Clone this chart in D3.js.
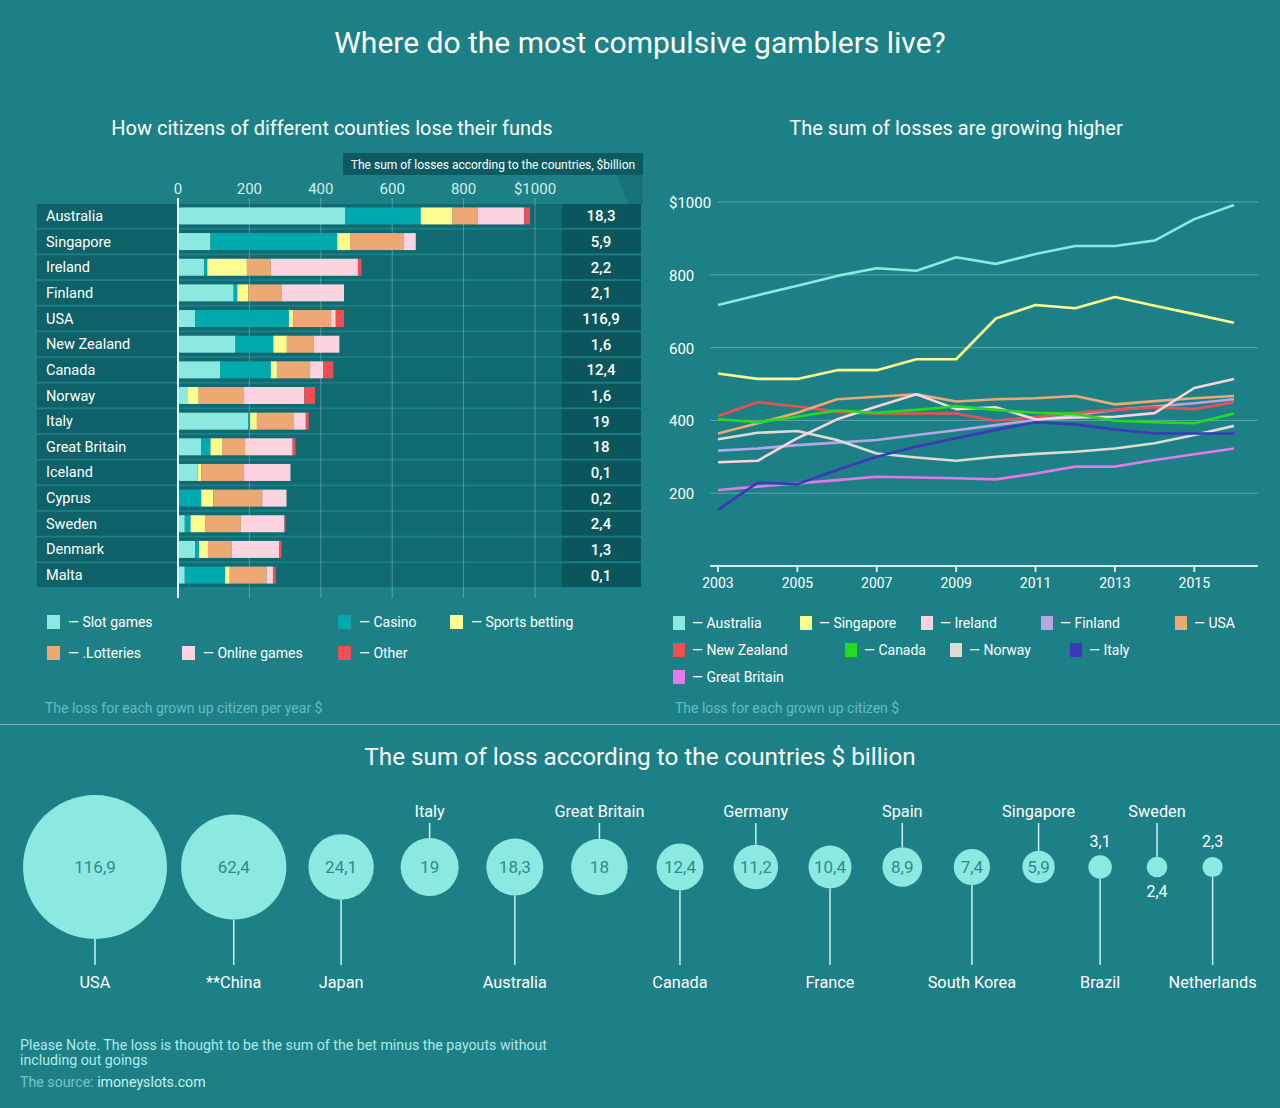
<!DOCTYPE html>
<html><head><meta charset="utf-8">
<script src="https://cdn.jsdelivr.net/npm/d3@7"></script>
<style>body{margin:0;background:#1d8086;} svg{display:block;font-family:Roboto, "Noto Sans", sans-serif;}</style>
</head><body><svg id="c" width="1280" height="1108"></svg>
<script>
// ---------- DATA ----------
const barCountries = ["Australia","Singapore","Ireland","Finland","USA","New Zealand","Canada","Norway","Italy","Great Britain","Iceland","Cyprus","Sweden","Denmark","Malta"];
const slotGames     = [468, 91, 73,156, 48,161,118, 26,197, 65, 55,  0, 19, 48, 19];
const casino        = [212,355,  9, 10,263,106,142,  0,  5, 26,  0, 65, 16, 11,113];
const sportsBetting = [ 89, 36,111, 31, 12, 38, 17, 32, 19, 34, 10, 34, 41, 25, 13];
const lotteries     = [ 70,151, 67, 93,106, 75, 93,127,104, 63,120,137,100, 67,103];
const onlineGames   = [131, 33,244,175, 13, 72, 37,169, 33,133,130, 68,122,133, 18];
const other         = [ 16,  0, 10,  0, 23,  0, 28, 30,  8,  8,  0,  0,  3,  6,  8];
const barTotals = ["18,3","5,9","2,2","2,1","116,9","1,6","12,4","1,6","19","18","0,1","0,2","2,4","1,3","0,1"];
const barTicks = [0,200,400,600,800,1000];
const barTickLabels = ["0","200","400","600","800","$1000"];
const barKeys = ["Slot games","Casino","Sports betting","Lotteries","Online games","Other"];
const barLegendLabels = ["Slot games","Casino","Sports betting",".Lotteries","Online games","Other"];

const years = [2003,2004,2005,2006,2007,2008,2009,2010,2011,2012,2013,2014,2015,2016];
const lineNames = ["Australia","Singapore","Ireland","Finland","USA","New Zealand","Canada","Norway","Italy","Great Britain"];
const australiaLine   = [717,744,770,797,818,811,848,830,857,879,879,894,953,992];
const singaporeLine   = [529,514,514,538,538,568,568,680,717,708,739,715,692,668];
const irelandLine     = [285,289,351,403,438,472,431,436,403,408,410,420,489,514];
const finlandLine     = [317,323,332,339,346,360,373,387,401,415,429,438,447,458];
const usaLine         = [364,392,421,458,465,472,452,458,461,467,444,453,461,467];
const newZealandLine  = [412,450,438,424,419,419,419,399,410,421,429,436,431,450];
const canadaLine      = [403,395,410,427,421,429,439,429,421,418,399,395,392,419];
const norwayLine      = [348,366,371,346,309,298,289,300,308,314,323,337,360,385];
const italyLine       = [154,229,225,264,300,328,351,374,395,389,375,364,364,364];
const greatBritainLine= [209,218,227,236,245,243,241,238,254,273,273,291,307,323];
const lineTicksY = [200,400,600,800,1000];
const lineTickLabelsY = ["200","400","600","800","$1000"];
const lineTicksX = [2003,2005,2007,2009,2011,2013,2015];

const bubbleCountries = ["USA","**China","Japan","Italy","Australia","Great Britain","Canada","Germany","France","Spain","South Korea","Singapore","Brazil","Sweden","Netherlands"];
const bubbleValues = [116.9,62.4,24.1,19,18.3,18,12.4,11.2,10.4,8.9,7.4,5.9,3.1,2.4,2.3];
const bubbleLabels = ["116,9","62,4","24,1","19","18,3","18","12,4","11,2","10,4","8,9","7,4","5,9","3,1","2,4","2,3"];

// ---------- STYLE ----------
const BG = "#1d8086";
const barColors = ["#8ce9e1","#00a9ae","#fdfd8f","#eda873","#fbd4e0","#ef4f50"];
const lineColors = ["#8ce9e1","#fdfd8f","#fbd4e0","#b5a8e4","#eda873","#ef4f50","#22dd1c","#dcdcd2","#3a3ab6","#e07be8"];

const svg = d3.select("#c");
svg.append("rect").attr("width",1280).attr("height",1108).attr("fill",BG);

svg.append("text").attr("x",640).attr("y",53).attr("text-anchor","middle")
  .attr("fill","#fff").attr("font-size",30).text("Where do the most compulsive gamblers live?");
svg.append("text").attr("x",332).attr("y",135).attr("text-anchor","middle")
  .attr("fill","#fff").attr("font-size",20).text("How citizens of different counties lose their funds");
svg.append("text").attr("x",956).attr("y",135).attr("text-anchor","middle")
  .attr("fill","#fff").attr("font-size",20).text("The sum of losses are growing higher");

// ---------- STACKED BARS ----------
const bx = d3.scaleLinear().domain([0,1000]).range([178,535]);
const by = d3.scaleBand().domain(barCountries).range([204,587]).paddingInner(0.07);
const series = [slotGames,casino,sportsBetting,lotteries,onlineGames,other];
const barRows = barCountries.map((c,i)=>{const o={country:c,total:barTotals[i]}; barKeys.forEach((k,j)=>o[k]=series[j][i]); return o;});
const stacked = d3.stack().keys(barKeys)(barRows);

// header box & fold
svg.append("polygon").attr("points","617,175 643,175 643,204 628,204").attr("fill","#17727a");
svg.append("rect").attr("x",343).attr("y",153).attr("width",300).attr("height",22).attr("fill","#0c5a61");
svg.append("text").attr("x",493).attr("y",169).attr("text-anchor","middle").attr("fill","#fff")
  .attr("font-size",12).text("The sum of losses according to the countries, $billion");

const rowG = svg.append("g");
barRows.forEach(d=>{
  const yy = by(d.country), h = by.bandwidth();
  rowG.append("rect").attr("x",37).attr("y",yy).attr("width",140).attr("height",h).attr("fill","#0e6168");
  rowG.append("rect").attr("x",177).attr("y",yy).attr("width",385).attr("height",h).attr("fill","#106a71");
  rowG.append("rect").attr("x",562).attr("y",yy).attr("width",79).attr("height",h).attr("fill","#0b565d");
  rowG.append("text").attr("x",46).attr("y",yy+h/2+5).attr("fill","#fff").attr("font-size",14.5).text(d.country);
  rowG.append("text").attr("x",601).attr("y",yy+h/2+5.5).attr("text-anchor","middle").attr("fill","#fff")
    .attr("font-size",15).attr("font-weight",500).text(d.total);
});
barTicks.forEach((t,i)=>{
  if(t>0) svg.append("line").attr("x1",bx(t)).attr("x2",bx(t)).attr("y1",198).attr("y2",598)
    .attr("stroke","rgba(255,255,255,0.28)").attr("stroke-width",1);
  svg.append("text").attr("x",bx(t)).attr("y",194).attr("text-anchor","middle")
    .attr("fill","#cdeeee").attr("font-size",15).text(barTickLabels[i]);
});
const bh = 17;
stacked.forEach((s,j)=>{
  svg.append("g").selectAll("rect").data(s).join("rect")
    .attr("x",d=>bx(d[0])).attr("width",d=>bx(d[1])-bx(d[0]))
    .attr("y",d=>by(d.data.country)+(by.bandwidth()-bh)/2).attr("height",bh)
    .attr("fill",barColors[j]);
});
svg.append("line").attr("x1",bx(0)).attr("x2",bx(0)).attr("y1",198).attr("y2",598)
  .attr("stroke","#f2fbfb").attr("stroke-width",2);

// left legend
const legPosL = [[47,615],[338,615],[450,615],[47,646],[182,646],[338,646]];
barLegendLabels.forEach((l,i)=>{
  const [lx0,ly0]=legPosL[i];
  svg.append("rect").attr("x",lx0).attr("y",ly0).attr("width",13).attr("height",14).attr("fill",barColors[i]);
  svg.append("text").attr("x",lx0+21).attr("y",ly0+12).attr("fill","#fff").attr("font-size",14).text("\u2014 "+l);
});
svg.append("text").attr("x",45).attr("y",713).attr("fill","#62bfc0").attr("font-size",14)
  .text("The loss for each grown up citizen per year $");

// ---------- LINE CHART ----------
const lx = d3.scaleLinear().domain([2003,2016]).range([718,1234]);
const ly = d3.scaleLinear().domain([0,1000]).range([566,202]);
lineTicksY.forEach((t,i)=>{
  svg.append("line").attr("x1",t===1000?718:710).attr("x2",1258).attr("y1",ly(t)).attr("y2",ly(t))
    .attr("stroke","rgba(255,255,255,0.3)").attr("stroke-width",1);
  svg.append("text").attr("x",669).attr("y",ly(t)+6).attr("fill","#fff").attr("font-size",15).text(lineTickLabelsY[i]);
});
svg.append("line").attr("x1",710).attr("x2",1258).attr("y1",566).attr("y2",566).attr("stroke","#d4eeee").attr("stroke-width",2);
lineTicksX.forEach(t=>{
  svg.append("line").attr("x1",lx(t)).attr("x2",lx(t)).attr("y1",566).attr("y2",572).attr("stroke","#d4eeee").attr("stroke-width",2);
  svg.append("text").attr("x",lx(t)).attr("y",588).attr("text-anchor","middle").attr("fill","#fff").attr("font-size",14).text(t);
});
const lineSeries = [australiaLine,singaporeLine,irelandLine,finlandLine,usaLine,newZealandLine,canadaLine,norwayLine,italyLine,greatBritainLine];
const lineGen = d3.line().x((d,i)=>lx(years[i])).y(d=>ly(d));
const drawOrder = [3,7,9,8,5,4,2,6,1,0];
drawOrder.forEach(k=>{
  svg.append("path").datum(lineSeries[k]).attr("d",lineGen).attr("fill","none")
    .attr("stroke",lineColors[k]).attr("stroke-width",2.6).attr("stroke-linejoin","round");
});
const legPosR = [[673,616],[800,616],[921,616],[1041,616],[1175,616],[673,643],[845,643],[950,643],[1070,643],[673,670]];
lineNames.forEach((n,i)=>{
  const [a,b]=legPosR[i];
  svg.append("rect").attr("x",a).attr("y",b).attr("width",12).attr("height",14).attr("fill",lineColors[i]);
  svg.append("text").attr("x",a+19).attr("y",b+12).attr("fill","#fff").attr("font-size",14).text("\u2014 "+n);
});
svg.append("text").attr("x",675).attr("y",713).attr("fill","#62bfc0").attr("font-size",14)
  .text("The loss for each grown up citizen $");

svg.append("line").attr("x1",0).attr("x2",1280).attr("y1",724.5).attr("y2",724.5).attr("stroke","rgba(255,255,255,0.4)").attr("stroke-width",1);

// ---------- BUBBLES ----------
svg.append("text").attr("x",640).attr("y",765).attr("text-anchor","middle")
  .attr("fill","#fff").attr("font-size",24.3).text("The sum of loss according to the countries $ billion");
const rScale = d3.scaleSqrt().domain([0,d3.max(bubbleValues)]).range([0,72]);
const cy = 867;
// spacing: each step grows with the two neighbouring radii
const cxs = [];
bubbleValues.forEach((v,i)=>{
  if(i===0){cxs.push(23+rScale(v));return;}
  const rs = rScale(bubbleValues[i-1])+rScale(v);
  cxs.push(cxs[i-1]+39.3+0.798*rs);
});
const above = [false,false,false,true,false,true,false,true,false,true,false,true,false,true,false];
const valueOutside = {12:"above",13:"below",14:"above"};
bubbleValues.forEach((v,i)=>{
  const x=cxs[i], r=rScale(v);
  if(above[i]){
    svg.append("line").attr("x1",x).attr("x2",x).attr("y1",823).attr("y2",cy-r).attr("stroke","#cfeeee").attr("stroke-width",1.5);
    svg.append("text").attr("x",x).attr("y",817).attr("text-anchor","middle").attr("fill","#fff").attr("font-size",16.3).text(bubbleCountries[i]);
  } else {
    svg.append("line").attr("x1",x).attr("x2",x).attr("y1",cy+r).attr("y2",965).attr("stroke","#cfeeee").attr("stroke-width",1.5);
    svg.append("text").attr("x",x).attr("y",988).attr("text-anchor","middle").attr("fill","#fff").attr("font-size",16.3).text(bubbleCountries[i]);
  }
  svg.append("circle").attr("cx",x).attr("cy",cy).attr("r",r).attr("fill","#8ce9e1");
  const pos = valueOutside[i];
  if(pos==="above") svg.append("text").attr("x",x).attr("y",847).attr("text-anchor","middle").attr("fill","#fff").attr("font-size",16).text(bubbleLabels[i]);
  else if(pos==="below") svg.append("text").attr("x",x).attr("y",897).attr("text-anchor","middle").attr("fill","#fff").attr("font-size",16).text(bubbleLabels[i]);
  else svg.append("text").attr("x",x).attr("y",cy+6).attr("text-anchor","middle").attr("fill","#2b8b8e").attr("font-size",17).text(bubbleLabels[i]);
});

// ---------- FOOTER ----------
svg.append("text").attr("x",20).attr("y",1050).attr("fill","#aee9ea").attr("font-size",14.2)
  .text("Please Note. The loss is thought to be the sum of the bet minus the payouts without");
svg.append("text").attr("x",20).attr("y",1065).attr("fill","#aee9ea").attr("font-size",14.2).text("including out goings");
const src = svg.append("text").attr("x",20).attr("y",1087).attr("font-size",14.2);
src.append("tspan").attr("fill","#7cc6c7").text("The source: ");
src.append("tspan").attr("fill","#c6f1f1").text("imoneyslots.com");
</script></body></html>
